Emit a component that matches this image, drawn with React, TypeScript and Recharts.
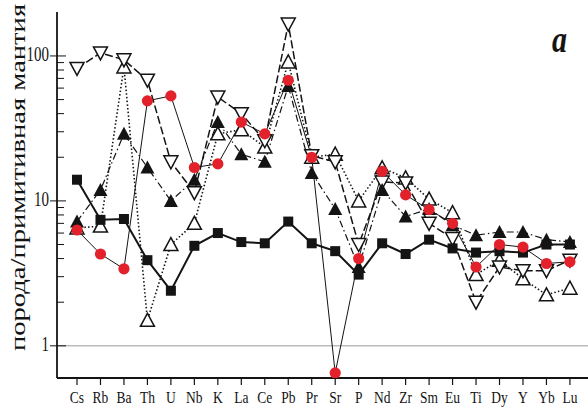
import React from 'react';
import { LineChart, Line, XAxis, YAxis, ReferenceLine } from 'recharts';

// Primitive-mantle normalised spider diagram, panel "a"
const ELEMENTS = ['Cs', 'Rb', 'Ba', 'Th', 'U', 'Nb', 'K', 'La', 'Ce', 'Pb', 'Pr', 'Sr', 'P', 'Nd', 'Zr', 'Sm', 'Eu', 'Ti', 'Dy', 'Y', 'Yb', 'Lu'];

const SQUARE = [14, 7.4, 7.5, 3.9, 2.4, 4.9, 6.0, 5.2, 5.1, 7.2, 5.1, 4.5, 3.1, 5.1, 4.3, 5.4, 4.7, 4.4, 4.5, 4.4, 5.0, 5.0];
const RED = [6.3, 4.3, 3.4, 49, 53, 17, 18, 35, 29, 68, 20, 0.65, 4.0, 16, 11, 8.7, 7.0, 3.5, 5.0, 4.8, 3.7, 3.8];
const FILLED_UP = [7.2, 11.9, 29, 17, 10, 14, 35, 21, 18.6, 62, 15.6, 8.8, 3.5, 11.9, 7.8, 8.8, 6.8, 5.8, 6.1, 6.1, 5.4, 5.2];
const OPEN_DOWN = [82, 105, 94, 68, 18.6, 11.4, 52, 40, 26, 166, 20.5, 18.6, 5.0, 13.5, 13.3, 7.0, 5.5, 2.0, 3.5, 3.3, 3.3, 3.9];
const OPEN_UP = [6.5, 6.7, 84, 1.5, 5.0, 7.0, 29, 31, 23.5, 91, 20, 21, 10, 16.9, 14.4, 10.3, 8.3, 3.1, 3.9, 2.9, 2.25, 2.5];

const Y_TICKS = [1, 2, 3, 4, 5, 6, 7, 8, 9, 10, 20, 30, 40, 50, 60, 70, 80, 90, 100];
const Y_MAJOR = [1, 10, 100];

const data = ELEMENTS.map((el, i) => ({
  i,
  el,
  sq: SQUARE[i],
  red: RED[i],
  fup: FILLED_UP[i],
  odown: OPEN_DOWN[i],
  oup: OPEN_UP[i],
}));

const SERIF = '"Liberation Serif", "DejaVu Serif", serif';
const INK = '#141414';

function SquareDot({ cx, cy }: any) {
  if (cx == null || cy == null) return null;
  return <rect x={cx - 5} y={cy - 5} width={10} height={10} fill={INK} />;
}

function RedDot({ cx, cy }: any) {
  if (cx == null || cy == null) return null;
  return <circle cx={cx} cy={cy} r={5.6} fill="#e3212b" />;
}

function UpTri({ cx, cy, filled }: any) {
  if (cx == null || cy == null) return null;
  const pts = `${cx - 7},${cy + 6} ${cx + 7},${cy + 6} ${cx},${cy - 7}`;
  return filled ? (
    <polygon points={pts} fill={INK} />
  ) : (
    <polygon points={pts} fill="#fff" stroke={INK} strokeWidth={1.5} />
  );
}

function DownTri({ cx, cy }: any) {
  if (cx == null || cy == null) return null;
  const pts = `${cx - 7},${cy - 6} ${cx + 7},${cy - 6} ${cx},${cy + 7}`;
  return <polygon points={pts} fill="#fff" stroke={INK} strokeWidth={1.5} />;
}

function XTick({ x, y, payload }: any) {
  return (
    <g>
      <line x1={x} x2={x} y1={y} y2={y + 7} stroke={INK} strokeWidth={1.2} />
      <text
        transform={`translate(${x},${y + 25}) scale(1,1.3)`}
        textAnchor="middle"
        fontFamily={SERIF}
        fontSize={13.5}
        fill={INK}
      >
        {ELEMENTS[payload.value]}
      </text>
    </g>
  );
}

function YTick({ x, y, payload }: any) {
  const major = Y_MAJOR.includes(payload.value);
  return (
    <g>
      <line x1={major ? x - 7 : x} x2={major ? x + 9 : x + 7} y1={y} y2={y} stroke={INK} strokeWidth={1} />
      {major && (
        <text
          transform={`translate(${x - 8},${y + 5}) scale(1,1.35)`}
          textAnchor="end"
          fontFamily={SERIF}
          fontSize={15}
          fill={INK}
        >
          {payload.value}
        </text>
      )}
    </g>
  );
}

export default function App() {
  return (
    <div style={{ position: 'fixed', left: 0, top: 0, width: 588, height: 408, background: '#fff' }}>
      <LineChart width={588} height={408} data={data} margin={{ top: 12, right: 0, bottom: 0, left: 0 }}>
        <XAxis
          dataKey="i"
          type="number"
          domain={[-0.852, 21.77]}
          allowDataOverflow
          ticks={ELEMENTS.map((_, i) => i)}
          interval={0}
          height={30}
          tickSize={0}
          tickMargin={0}
          tickLine={false}
          tick={<XTick />}
          axisLine={{ stroke: INK, strokeWidth: 1.8 }}
        />
        <YAxis
          type="number"
          scale="log"
          domain={[0.6, 201]}
          allowDataOverflow
          ticks={Y_TICKS}
          interval={0}
          width={57}
          tickSize={0}
          tickMargin={0}
          tickLine={false}
          tick={<YTick />}
          axisLine={{ stroke: INK, strokeWidth: 1.8 }}
        />
        <ReferenceLine y={1} stroke="#9a9a9a" strokeWidth={1} />
        <Line
          dataKey="oup"
          stroke={INK}
          strokeWidth={1.6}
          strokeDasharray="1.5 2.2"
          dot={(p: any) => <UpTri key={`oup-${p.index}`} cx={p.cx} cy={p.cy} />}
          activeDot={false}
          isAnimationActive={false}
        />
        <Line
          dataKey="odown"
          stroke={INK}
          strokeWidth={1.5}
          strokeDasharray="8 3"
          dot={(p: any) => <DownTri key={`odown-${p.index}`} cx={p.cx} cy={p.cy} />}
          activeDot={false}
          isAnimationActive={false}
        />
        <Line
          dataKey="fup"
          stroke={INK}
          strokeWidth={1.2}
          strokeDasharray="7 3 1.5 3"
          dot={(p: any) => <UpTri key={`fup-${p.index}`} cx={p.cx} cy={p.cy} filled />}
          activeDot={false}
          isAnimationActive={false}
        />
        <Line
          dataKey="sq"
          stroke={INK}
          strokeWidth={2}
          dot={(p: any) => <SquareDot key={`sq-${p.index}`} cx={p.cx} cy={p.cy} />}
          activeDot={false}
          isAnimationActive={false}
        />
        <Line
          dataKey="red"
          stroke={INK}
          strokeWidth={1}
          dot={(p: any) => <RedDot key={`red-${p.index}`} cx={p.cx} cy={p.cy} />}
          activeDot={false}
          isAnimationActive={false}
        />
      </LineChart>
      <svg width={588} height={408} style={{ position: 'absolute', left: 0, top: 0, pointerEvents: 'none' }}>
        <text
          transform="translate(25,177.5) rotate(-90) scale(1.43,1)"
          textAnchor="middle"
          fontFamily={SERIF}
          fontSize={20}
          fill={INK}
        >
          порода/примитивная мантия
        </text>
        <text
          transform="translate(559.5,52) scale(1,1.23)"
          textAnchor="middle"
          fontFamily={SERIF}
          fontSize={30}
          fontWeight="bold"
          fontStyle="italic"
          fill={INK}
        >
          a
        </text>
      </svg>
    </div>
  );
}
